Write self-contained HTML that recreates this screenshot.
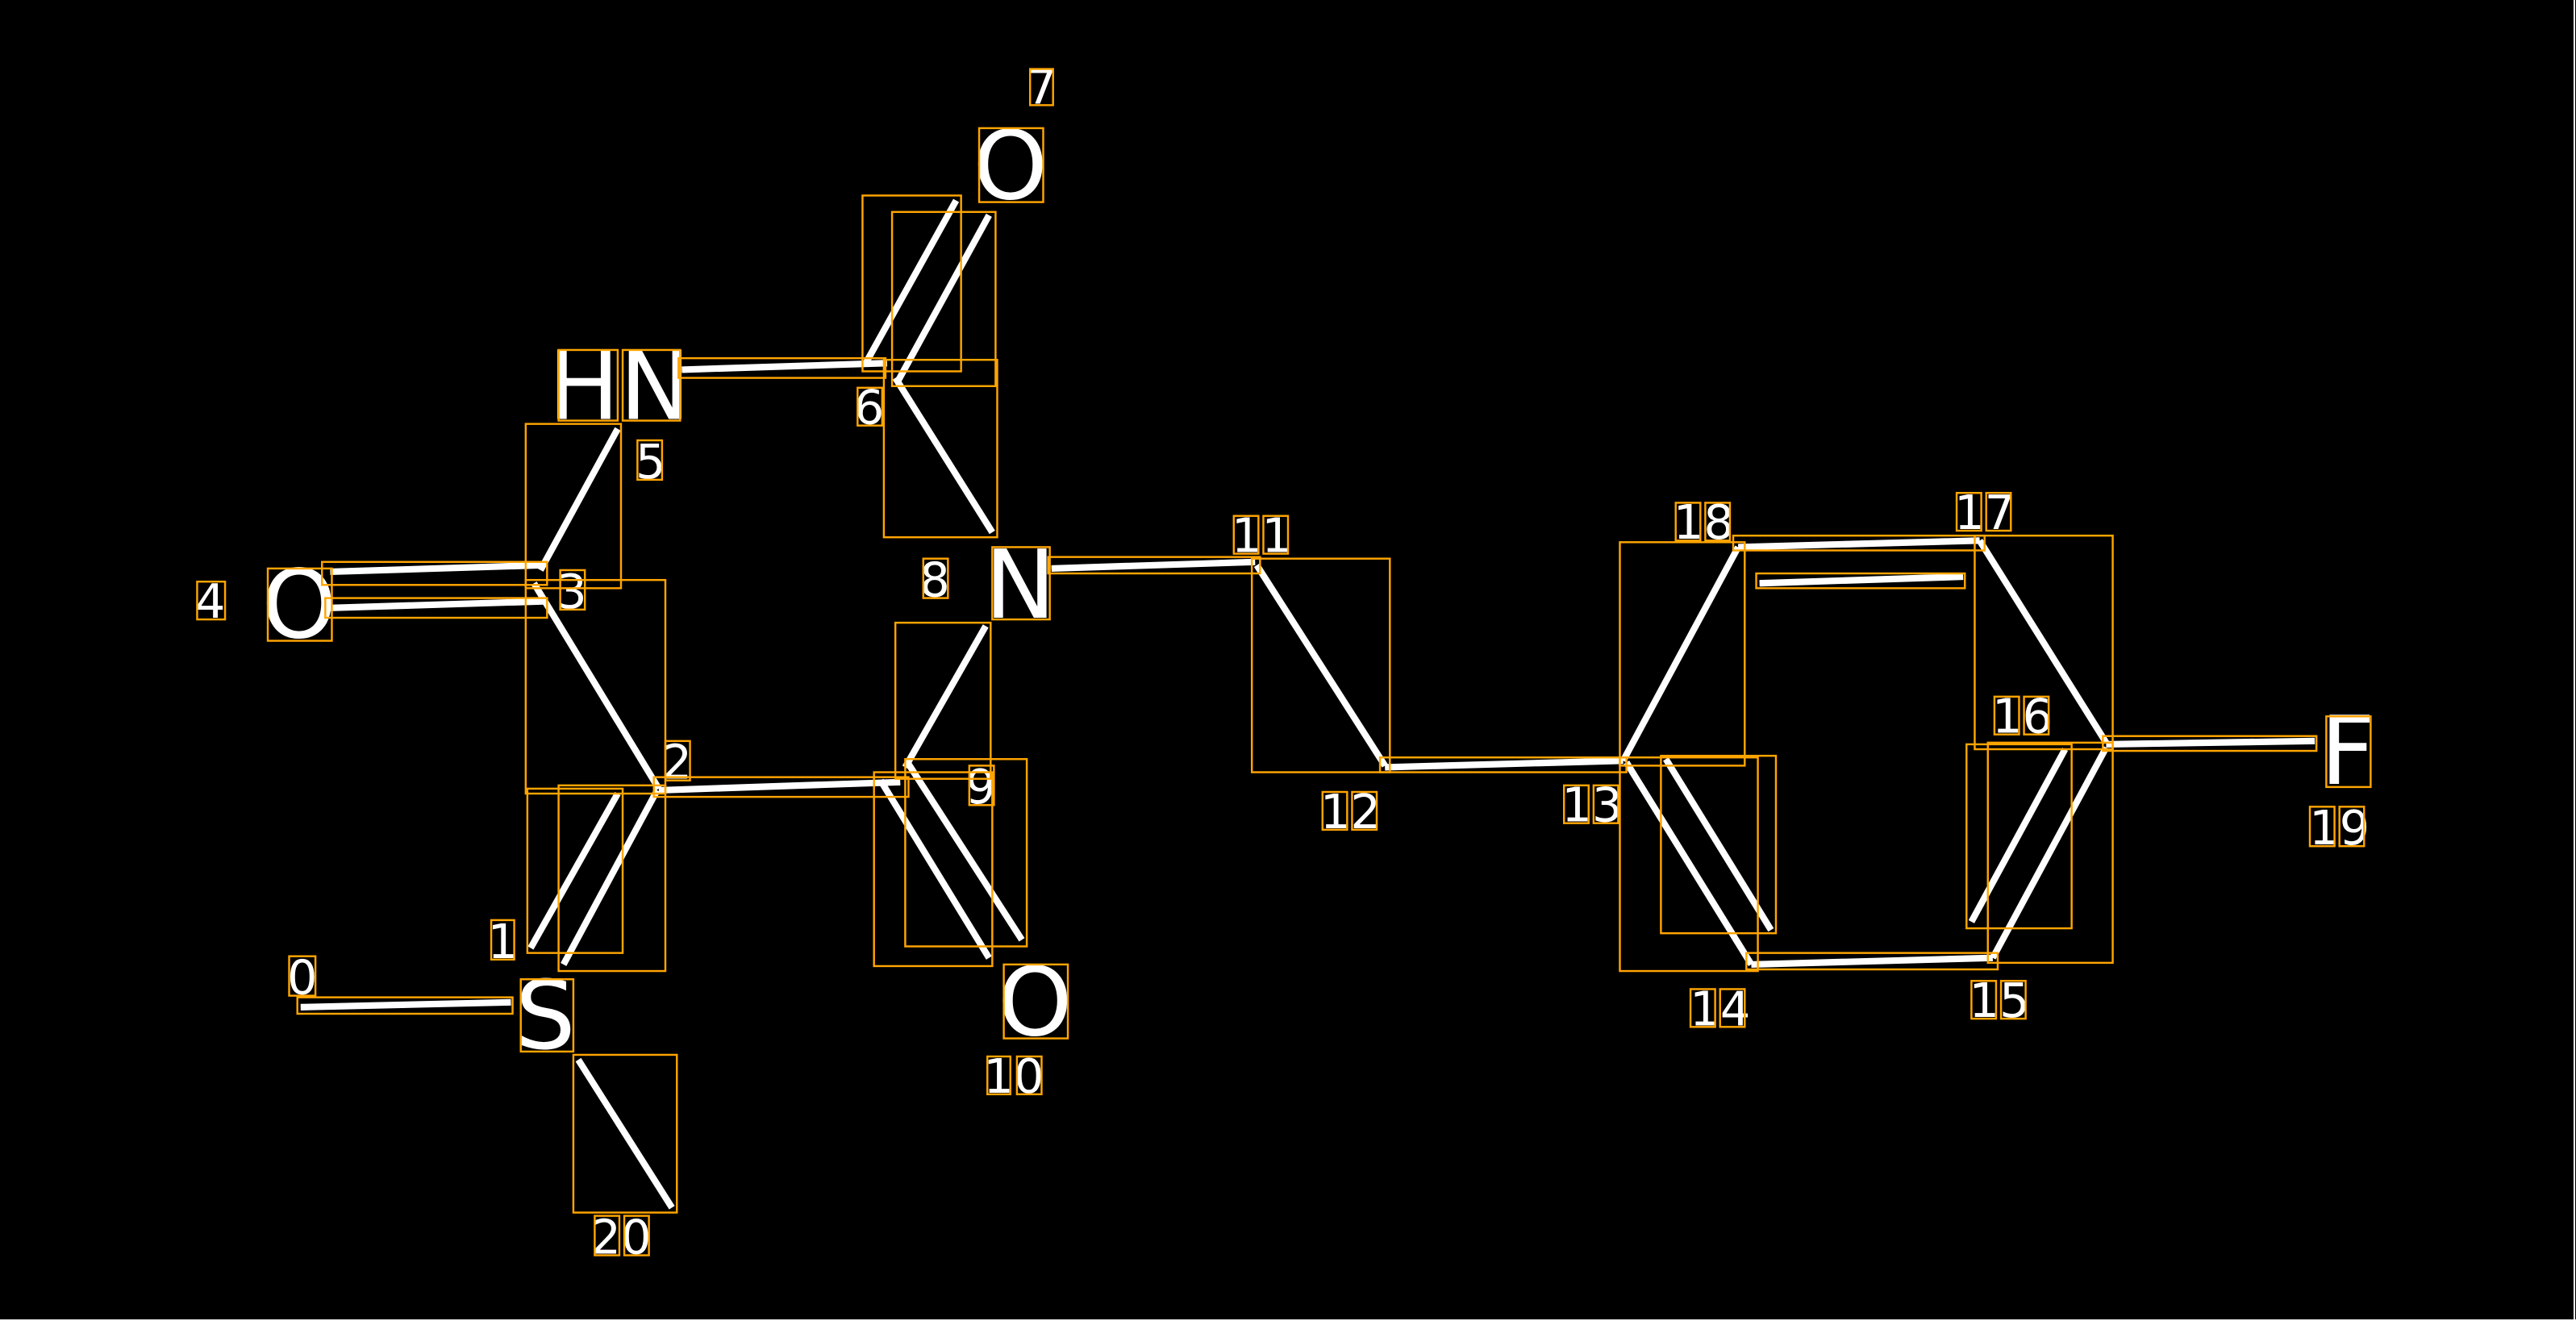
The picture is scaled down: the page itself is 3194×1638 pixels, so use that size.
<!DOCTYPE html>
<html><head><meta charset="utf-8"><style>
html,body{margin:0;padding:0;background:#000;width:3194px;height:1638px;overflow:hidden}
svg{display:block}
text{font-family:"DejaVu Sans","Liberation Sans",sans-serif;fill:#fff}
</style></head><body>
<svg width="3194" height="1638" viewBox="0 0 1568 804" preserveAspectRatio="none">
<rect x="0" y="0" width="1568" height="804" fill="#000"/>
<line x1="1567" y1="0" x2="1567" y2="804" stroke="#fff" stroke-width="1"/>
<line x1="0" y1="803.5" x2="1568" y2="803.5" stroke="#fff" stroke-width="1"/>
<g stroke="#fff" stroke-width="4" stroke-linecap="butt">
<line x1="183" y1="613" x2="311" y2="610"/>
<line x1="352" y1="645" x2="409" y2="735"/>
<line x1="323" y1="577" x2="376" y2="483"/>
<line x1="343" y1="587" x2="400" y2="481"/>
<line x1="401" y1="480" x2="325" y2="355"/>
<line x1="201" y1="348" x2="330" y2="344"/>
<line x1="201" y1="370" x2="331" y2="366"/>
<line x1="329" y1="347" x2="376" y2="261"/>
<line x1="415" y1="225" x2="540" y2="221"/>
<line x1="527" y1="221" x2="582" y2="122"/>
<line x1="546" y1="233" x2="602" y2="131"/>
<line x1="545" y1="230" x2="604" y2="324"/>
<line x1="640" y1="346" x2="764" y2="342"/>
<line x1="600" y1="381" x2="551" y2="467"/>
<line x1="536" y1="475" x2="602" y2="583"/>
<line x1="553" y1="465" x2="622" y2="572"/>
<line x1="401" y1="481" x2="548" y2="476"/>
<line x1="765" y1="344" x2="843" y2="466"/>
<line x1="843" y1="467" x2="988" y2="463"/>
<line x1="988" y1="463" x2="1058" y2="333"/>
<line x1="1058" y1="333" x2="1205" y2="329"/>
<line x1="1071" y1="355" x2="1195" y2="351"/>
<line x1="1205" y1="329" x2="1282" y2="452"/>
<line x1="1282" y1="453" x2="1409" y2="451"/>
<line x1="1282" y1="455" x2="1213" y2="583"/>
<line x1="1257" y1="456" x2="1200" y2="561"/>
<line x1="1213" y1="583" x2="1066" y2="587"/>
<line x1="1066" y1="587" x2="990" y2="464"/>
<line x1="1078" y1="566" x2="1014" y2="462"/>
</g>
<g font-size="58" text-anchor="middle">
<text x="615" y="121">O</text>
<text x="377" y="255">HN</text>
<text x="182" y="388">O</text>
<text x="621" y="376">N</text>
<text x="332" y="638">S</text>
<text x="630" y="630">O</text>
<text x="1429" y="477">F</text>
</g>
<g font-size="29" text-anchor="middle">
<text x="634" y="63">7</text>
<text x="396" y="291">5</text>
<text x="529" y="258">6</text>
<text x="128" y="376">4</text>
<text x="348" y="370">3</text>
<text x="569" y="363">8</text>
<text x="768" y="336">11</text>
<text x="412" y="474">2</text>
<text x="597" y="489">9</text>
<text x="306" y="583">1</text>
<text x="184" y="605">0</text>
<text x="617" y="665">10</text>
<text x="378" y="763">20</text>
<text x="822" y="504">12</text>
<text x="969" y="500">13</text>
<text x="1047" y="624">14</text>
<text x="1217" y="619">15</text>
<text x="1231" y="446">16</text>
<text x="1208" y="322">17</text>
<text x="1037" y="328">18</text>
<text x="1424" y="514">19</text>
</g>
<g fill="none" stroke="#ffa500" stroke-width="1.2">
<rect x="627" y="42" width="14" height="22"/>
<rect x="596" y="78" width="39" height="45"/>
<rect x="340" y="213" width="36" height="43"/>
<rect x="379" y="213" width="35" height="43"/>
<rect x="388" y="268" width="15" height="24"/>
<rect x="522" y="236" width="15" height="23"/>
<rect x="120" y="354" width="17" height="23"/>
<rect x="163" y="346" width="39" height="44"/>
<rect x="341" y="347" width="15" height="24"/>
<rect x="562" y="340" width="15" height="24"/>
<rect x="604" y="333" width="35" height="44"/>
<rect x="751" y="314" width="15" height="23"/><rect x="769" y="314" width="15" height="23"/>
<rect x="405" y="451" width="15" height="24"/>
<rect x="590" y="466" width="15" height="24"/>
<rect x="299" y="560" width="14" height="24"/>
<rect x="176" y="582" width="16" height="24"/>
<rect x="317" y="596" width="32" height="44"/>
<rect x="611" y="587" width="39" height="45"/>
<rect x="601" y="643" width="14" height="23"/><rect x="619" y="643" width="15" height="23"/>
<rect x="362" y="740" width="15" height="24"/><rect x="380" y="740" width="15" height="24"/>
<rect x="805" y="482" width="15" height="23"/><rect x="823" y="482" width="15" height="23"/>
<rect x="952" y="478" width="15" height="23"/><rect x="970" y="478" width="15" height="23"/>
<rect x="1029" y="602" width="15" height="23"/><rect x="1047" y="602" width="15" height="23"/>
<rect x="1200" y="597" width="15" height="23"/><rect x="1218" y="597" width="15" height="23"/>
<rect x="1214" y="424" width="15" height="23"/><rect x="1232" y="424" width="15" height="23"/>
<rect x="1191" y="300" width="15" height="23"/><rect x="1209" y="300" width="15" height="23"/>
<rect x="1020" y="306" width="15" height="23"/><rect x="1038" y="306" width="15" height="23"/>
<rect x="1406" y="491" width="15" height="24"/><rect x="1424" y="491" width="15" height="24"/>
<rect x="1416" y="436" width="27" height="43"/>
<rect x="181" y="607" width="131" height="10"/>
<rect x="349" y="642" width="63" height="96"/>
<rect x="321" y="480" width="58" height="100"/>
<rect x="340" y="478" width="65" height="113"/>
<rect x="320" y="353" width="85" height="130"/>
<rect x="196" y="342" width="137" height="14"/>
<rect x="198" y="364" width="135" height="12"/>
<rect x="320" y="258" width="58" height="100"/>
<rect x="413" y="218" width="126" height="12"/>
<rect x="525" y="119" width="60" height="107"/>
<rect x="543" y="129" width="63" height="106"/>
<rect x="538" y="219" width="69" height="108"/>
<rect x="638" y="339" width="129" height="10"/>
<rect x="545" y="379" width="58" height="95"/>
<rect x="532" y="470" width="72" height="118"/>
<rect x="551" y="462" width="74" height="114"/>
<rect x="398" y="473" width="155" height="12"/>
<rect x="762" y="340" width="84" height="130"/>
<rect x="840" y="461" width="150" height="9"/>
<rect x="986" y="330" width="76" height="136"/>
<rect x="1055" y="326" width="153" height="9"/>
<rect x="1069" y="349" width="127" height="9"/>
<rect x="1202" y="326" width="84" height="130"/>
<rect x="1280" y="448" width="130" height="9"/>
<rect x="1210" y="452" width="76" height="134"/>
<rect x="1197" y="453" width="64" height="112"/>
<rect x="1063" y="580" width="153" height="10"/>
<rect x="986" y="461" width="84" height="130"/>
<rect x="1011" y="460" width="70" height="108"/>
</g>
</svg>
</body></html>
